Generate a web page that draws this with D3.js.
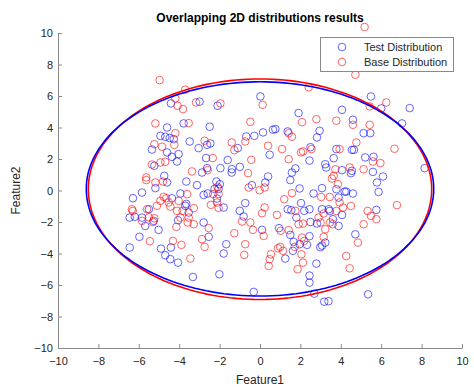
<!DOCTYPE html>
<html>
<head>
<meta charset="utf-8">
<script src="https://cdn.jsdelivr.net/npm/d3@7"></script>
<style>
  body { margin: 0; background: #fff; }
  svg { font-family: "Liberation Sans", Arial, Helvetica, sans-serif; }
</style>
</head>
<body>
<svg id="chart" width="474" height="387"></svg>
<script>
// points
const testPoints = [
  [7.41,5.23],[7.03,4.26],[8.15,1.42],
  [5.49,5.97],[6.0,5.21],[4.06,5.12],[4.6,4.49],[2.95,3.79],[5.13,3.64],[5.46,3.64],[2.82,3.37],[2.5,2.75],
  [3.78,2.63],[4.55,2.58],[4.65,2.58],[5.21,2.1],[5.62,2.14],[3.65,2.05],[2.45,1.9],[3.23,1.67],[3.28,1.46],
  [4.06,1.29],[4.55,1.25],[4.5,1.1],[5.59,1.18],[6.09,0.89],[5.79,0.51],[3.78,0.08],[4.19,-0.07],[4.27,-0.07],
  [4.6,-0.19],[5.87,-0.09],[2.65,-0.19],[3.07,0.15],[3.89,-0.45],[2.45,-1.19],[3.07,-1.19],[3.4,-1.19],[3.45,-1.3],
  [4.06,-1.55],[5.76,-1.23],[3.61,-1.82],[2.5,-2.0],[2.82,-2.1],[3.89,-2.25],[2.45,-2.9],[4.72,-2.78],[3.23,-3.31],
  [3.07,-3.5],[2.98,-3.6],[2.79,-4.64],[2.45,-5.4],[2.45,-5.85],[5.35,-6.59],[3.18,-7.06],[3.39,-7.03],[2.69,-6.55],
  [0.02,5.97],[1.91,4.92],[-0.68,3.43],[-0.28,3.47],[0.15,3.69],[0.64,3.86],[0.76,3.9],[1.37,3.75],[-1.1,2.69],
  [0.48,2.27],[-1.0,1.5],[-1.39,1.36],[-1.4,1.14],[1.75,1.4],[1.58,1.14],[1.5,0.66],[0.4,0.89],[0.26,0.51],
  [-0.4,0.34],[1.96,0.13],[-0.73,-0.8],[-1.0,-1.29],[-0.81,-1.65],[1.37,-1.19],[1.55,-1.25],[2.03,-0.8],[2.19,-1.29],
  [1.8,-1.72],[0.1,-2.5],[0.94,-2.39],[1.5,-2.82],[1.67,-3.26],[1.96,-3.41],[2.33,-3.45],[1.25,-4.32],[1.63,-3.83],
  [-0.31,-6.44],
  [-4.41,5.53],[-2.99,5.64],[-2.1,5.38],[-4.6,4.0],[-3.78,4.26],[-2.49,4.05],[-4.93,3.47],[-4.69,3.41],[-4.47,3.33],
  [-4.27,3.26],[-5.35,2.6],[-4.6,2.42],[-4.36,2.14],[-4.03,2.31],[-4.11,1.84],[-5.23,1.57],[-3.48,3.11],[-3.04,2.69],
  [-2.62,2.9],[-2.46,2.99],[-2.67,2.06],[-1.6,1.93],[-2.87,1.14],[-2.62,1.42],[-1.96,1.42],[-2.16,0.57],[-1.99,0.4],
  [-2.25,0.1],[-2.05,0.1],[-4.74,0.93],[-4.6,0.51],[-5.18,0.15],[-3.65,0.57],[-3.12,0.34],[-3.94,-0.19],[-2.79,-0.28],
  [-2.59,-0.19],[-2.13,-0.51],[-1.8,-1.08],[-4.36,-0.49],[-3.7,-0.97],[-3.65,-0.85],[-3.53,-1.4],[-4.06,-1.89],
  [-5.02,-2.5],[-5.26,-1.93],[-2.79,-2.03],[-2.54,-2.94],[-1.67,-3.41],[-1.8,-4.0],[-4.9,-3.69],[-4.41,-3.62],
  [-4.69,-4.11],[-4.44,-4.36],[-4.06,-4.58],[-3.32,-5.49],[-2.01,-5.32],
  [-5.84,-0.13],[-6.29,-0.49],[-6.45,-1.72],[-6.2,-1.67],[-5.84,-1.72],[-5.68,-2.25],[-5.5,-1.19],[-5.97,-2.94],
  [-6.45,-3.62]
];

const basePoints = [
  [5.18,10.38],[4.72,7.35],
  [6.66,2.65],[6.78,-0.93],
  [5.43,5.34],[6.25,5.59],[2.79,4.53],[3.78,4.43],[4.6,4.17],[5.43,4.17],[4.77,3.05],[2.55,2.63],[3.94,2.63],
  [5.59,1.84],[5.96,1.74],[3.73,1.35],[4.44,1.46],[5.13,1.35],[3.65,0.93],[3.56,0.76],[3.86,0.4],[3.03,-0.41],
  [3.45,-0.41],[3.94,-0.76],[4.5,-0.98],[4.11,-1.08],[3.78,-1.3],[3.15,-1.46],[2.9,-1.72],[5.33,-1.3],[5.49,-1.61],
  [5.76,-1.82],[5.13,-2.14],[3.47,-2.03],[3.6,-2.14],[3.0,-2.03],[3.23,-2.46],[3.15,-2.95],[4.85,-3.31],[4.27,-4.16],
  [4.44,-4.94],
  [0.13,5.44],[2.41,6.55],[2.08,4.34],[-0.48,4.36],[1.42,3.64],[1.58,3.41],[-0.73,3.11],[-1.4,3.05],[-1.27,2.56],
  [0.4,2.84],[1.09,2.63],[2.03,2.42],[2.13,2.48],[1.42,1.99],[-0.43,1.95],[-0.59,1.1],[0.23,0.19],[-0.02,0.02],
  [-0.56,0.19],[1.58,-0.17],[1.2,-0.55],[-0.89,-1.97],[0.23,-1.08],[0.1,-1.44],[0.84,-1.55],[1.75,-1.29],[1.91,-2.14],
  [2.13,-2.1],[-0.48,-2.03],[-0.35,-2.5],[-1.27,-2.71],[0.18,-2.88],[1.02,-2.56],[1.42,-2.52],[2.08,-2.99],[2.19,-3.2],
  [-0.73,-3.41],[-0.78,-4.09],[1.0,-3.58],[0.89,-3.67],[1.14,-3.83],[1.72,-3.58],[2.05,-4.05],[0.54,-4.05],[0.48,-4.36],
  [0.43,-4.79],[2.13,-4.58],[1.86,-5.0],
  [-4.97,7.01],[-3.7,6.4],[-4.19,5.85],[-4.08,5.38],[-3.81,5.17],[-3.17,5.59],[-1.96,5.53],[-5.18,4.26],[-3.53,4.28],
  [-4.19,3.64],[-5.23,2.94],[-4.85,2.78],[-4.24,2.9],[-4.93,1.78],[-4.69,1.82],[-5.35,1.65],[-2.74,3.16],[-2.34,2.06],
  [-3.37,1.21],[-2.59,1.29],[-2.1,0.23],[-4.8,0.57],[-5.18,0.51],[-3.61,-0.23],[-2.32,-0.23],[-2.05,-0.23],[-2.13,-0.76],
  [-2.43,-0.91],[-2.05,-1.1],[-4.77,-0.4],[-4.64,-0.49],[-4.93,-0.66],[-4.52,-0.76],[-4.03,-0.66],[-5.1,-0.97],
  [-4.44,-1.02],[-4.11,-1.29],[-3.83,-1.29],[-3.28,-1.12],[-3.53,-1.72],[-3.94,-1.72],[-3.58,-2.03],[-3.28,-2.14],
  [-4.14,-2.31],[-5.23,-1.76],[-5.3,-2.0],[-2.54,-2.39],[-2.87,-3.09],[-2.74,-3.58],[-4.31,-3.2],[-3.89,-3.45],
  [-3.45,-4.32],[-5.45,-3.22],
  [-5.63,0.83],[-5.63,0.66],[-6.34,-1.19],[-6.3,-1.3],[-5.84,-1.93],[-5.59,-1.19],[-5.5,-1.7]
];

// fitted ellipses: [cx, cy, rx, ry]
const testEllipse = [0, 0.1, 8.6, 6.8];
const baseEllipse = [0, 0.08, 8.5, 7.0];

const xTicks = d3.range(-10, 11, 2);
const yTicks = d3.range(-10, 11, 2);
const seriesNames = ['Test Distribution', 'Base Distribution'];
const seriesColors = ['#0000ff', '#ff0000'];

const width = 474, height = 387;
const margin = {top: 33, right: 12, bottom: 39, left: 58};

const svg = d3.select('#chart');

const x = d3.scaleLinear().domain([-10, 10]).range([margin.left, width - margin.right]);
const y = d3.scaleLinear().domain([-10, 10]).range([height - margin.bottom, margin.top]);

const axisColor = '#8a8a8a';
const textColor = '#262626';

const xAxis = svg.append('g')
  .attr('transform', `translate(0,${height - margin.bottom})`)
  .call(d3.axisBottom(x).tickValues(xTicks).tickSizeInner(-4).tickSizeOuter(0).tickPadding(9));

const yAxis = svg.append('g')
  .attr('transform', `translate(${margin.left},0)`)
  .call(d3.axisLeft(y).tickValues(yTicks).tickSizeInner(-4).tickSizeOuter(0).tickPadding(5));

[xAxis, yAxis].forEach(a => {
  a.select('.domain').attr('stroke', axisColor);
  a.selectAll('.tick line').attr('stroke', axisColor);
  a.selectAll('.tick text').attr('fill', textColor).attr('font-size', 11);
  a.attr('font-family', null);
});

// ellipse outlines
const ellipseLine = d3.line().x(d => x(d[0])).y(d => y(d[1]));
function ellipsePath(e) {
  const pts = d3.range(0, 361, 2).map(a => {
    const t = a * Math.PI / 180;
    return [e[0] + e[2] * Math.cos(t), e[1] + e[3] * Math.sin(t)];
  });
  return ellipseLine(pts);
}

function drawPoints(data, color) {
  svg.append('g')
    .selectAll('circle')
    .data(data)
    .join('circle')
    .attr('cx', d => x(d[0]))
    .attr('cy', d => y(d[1]))
    .attr('r', 3.8)
    .attr('fill', 'none')
    .attr('stroke', color)
    .attr('stroke-opacity', 0.6)
    .attr('stroke-width', 1);
}

drawPoints(testPoints, seriesColors[0]);
drawPoints(basePoints, seriesColors[1]);

svg.append('path')
  .attr('d', ellipsePath(baseEllipse))
  .attr('fill', 'none')
  .attr('stroke', seriesColors[1])
  .attr('stroke-width', 1.6);

svg.append('path')
  .attr('d', ellipsePath(testEllipse))
  .attr('fill', 'none')
  .attr('stroke', seriesColors[0])
  .attr('stroke-width', 1.6);

// title and labels
svg.append('text')
  .attr('x', (margin.left + width - margin.right) / 2)
  .attr('y', 22)
  .attr('text-anchor', 'middle')
  .attr('font-weight', 'bold')
  .attr('font-size', 12)
  .attr('fill', '#000')
  .text('Overlapping 2D distributions results');

svg.append('text')
  .attr('x', (margin.left + width - margin.right) / 2)
  .attr('y', 384)
  .attr('text-anchor', 'middle')
  .attr('font-size', 12)
  .attr('fill', textColor)
  .text('Feature1');

svg.append('text')
  .attr('transform', `translate(20,${(margin.top + height - margin.bottom) / 2}) rotate(-90)`)
  .attr('text-anchor', 'middle')
  .attr('font-size', 12)
  .attr('fill', textColor)
  .text('Feature2');

// legend
const legend = svg.append('g');
legend.append('rect')
  .attr('x', 320.5).attr('y', 37.5)
  .attr('width', 133).attr('height', 34)
  .attr('fill', '#fff')
  .attr('stroke', axisColor);

seriesNames.forEach((name, i) => {
  const ly = 47 + i * 15;
  legend.append('circle')
    .attr('cx', 342).attr('cy', ly).attr('r', 3.8)
    .attr('fill', 'none')
    .attr('stroke', seriesColors[i])
    .attr('stroke-opacity', 0.6);
  legend.append('text')
    .attr('x', 364).attr('y', ly)
    .attr('dy', '0.35em')
    .attr('font-size', 11)
    .attr('fill', textColor)
    .text(name);
});
</script>
</body>
</html>
